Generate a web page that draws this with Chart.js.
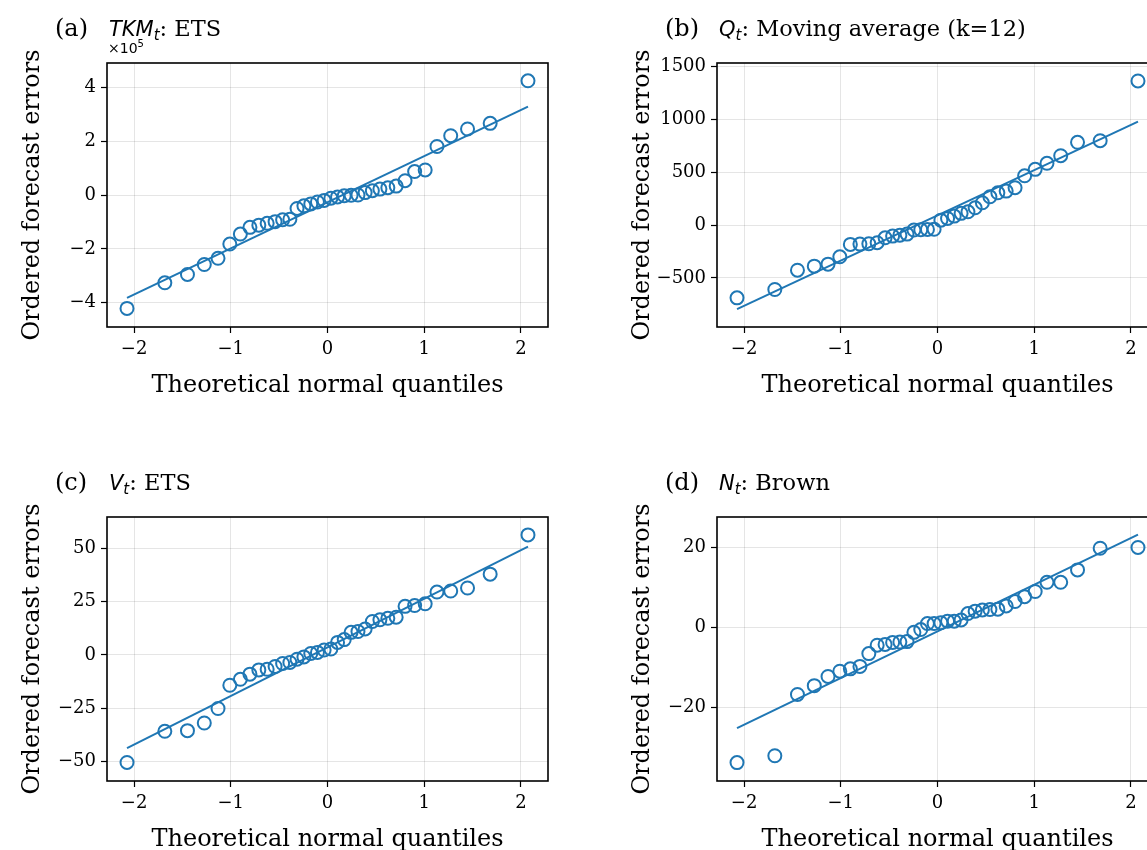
<!DOCTYPE html>
<html><head><meta charset="utf-8">
<script src="https://cdn.jsdelivr.net/npm/chart.js@4.4.1/dist/chart.umd.min.js"></script>
<style>
html,body{margin:0;padding:0;background:#fff;}
body{width:1147px;height:850px;overflow:hidden;position:relative;}
canvas{position:absolute;}
</style></head><body>
<canvas id="pa" width="580" height="420" style="left:0px;top:0px;width:580px;height:420px"></canvas>
<canvas id="pb" width="580" height="420" style="left:610px;top:0px;width:580px;height:420px"></canvas>
<canvas id="pc" width="580" height="420" style="left:0px;top:454px;width:580px;height:420px"></canvas>
<canvas id="pd" width="580" height="420" style="left:610px;top:454px;width:580px;height:420px"></canvas>
<script>
// Theoretical normal quantiles (x positions)
const quantiles = [-2.073,-1.682,-1.448,-1.274,-1.132,-1.010,-0.901,-0.802,-0.710,-0.624,-0.542,-0.464,-0.389,-0.315,-0.244,-0.173,-0.104,-0.035,0.035,0.104,0.173,0.244,0.315,0.389,0.464,0.542,0.624,0.710,0.802,0.901,1.010,1.132,1.274,1.448,1.682,2.073];
const xTicks = [-2,-1,0,1,2];

// (a) TKM_t: ETS
const errorsA = [-421000,-326000,-295000,-258000,-235000,-182000,-145000,-120000,-112000,-105000,-99000,-92000,-90000,-50000,-40000,-33000,-26000,-20000,-12000,-7000,-3000,-1000,0,9000,16000,22000,27000,33000,53000,87000,93000,180000,220000,245000,266000,424000];
const fitA = [-382000, 328000];
const yTicksA = [-400000,-200000,0,200000,400000];

// (b) Q_t: Moving average (k=12)
const errorsB = [-689,-610,-427,-389,-370,-300,-183,-180,-177,-167,-120,-104,-95,-85,-47,-44,-41,-40,47,63,85,111,126,164,211,268,306,322,354,467,528,585,657,784,799,1365];
const fitB = [-796, 979];
const yTicksB = [-500,0,500,1000,1500];

// (c) V_t: ETS
const errorsC = [-50.4,-35.8,-35.5,-31.9,-25.1,-14.2,-11.4,-9.0,-7.0,-6.7,-5.4,-4.0,-3.5,-2.0,-0.9,0.7,1.2,2.3,2.8,5.9,7.2,10.6,11.0,12.2,15.7,16.5,17.2,17.7,22.8,23.2,24.0,29.5,30.0,31.4,37.9,56.3];
const fitC = [-43.7, 50.8];
const yTicksC = [-50,-25,0,25,50];

// (d) N_t: Brown
const errorsD = [-33.8,-32.1,-16.8,-14.6,-12.3,-11.0,-10.4,-9.8,-6.6,-4.5,-4.3,-3.8,-3.7,-3.6,-1.3,-0.6,0.9,0.9,1.1,1.5,1.5,1.8,3.4,4.0,4.3,4.4,4.5,5.3,6.4,7.6,8.9,11.2,11.2,14.3,19.7,19.9];
const fitD = [-25.2, 23.1];
const yTicksD = [-20,0,20];

const BLUE = '#1f77b4';
Chart.defaults.font.family = '"DejaVu Serif"';
Chart.defaults.color = '#000';

function minus(s){ return String(s).replace('-', '\u2212'); }

function panel(id, errors, fit, yTicks, yMin, yMax, title, yScale) {
  const titlePlugin = {
    id: 'frameTitle' + id,
    afterDatasetsDraw(chart) {
      const {ctx, chartArea: a} = chart;
      ctx.save();
      ctx.strokeStyle = '#000';
      ctx.lineWidth = 1.6;
      ctx.strokeRect(a.left, a.top, a.right - a.left, a.bottom - a.top);
      ctx.restore();
    },
    afterDraw(chart) {
      const ctx = chart.ctx;
      ctx.save();
      ctx.fillStyle = '#000';
      ctx.textBaseline = 'alphabetic';
      ctx.textAlign = 'left';
      ctx.font = '24px "DejaVu Serif"';
      ctx.fillText(title.tag, 55, 36);
      let x = 109;
      ctx.font = 'italic 21px "DejaVu Sans"';
      ctx.fillText(title.math, x, 36);
      x += ctx.measureText(title.math).width;
      ctx.font = 'italic 15px "DejaVu Sans"';
      ctx.fillText(title.sub, x, 40);
      x += ctx.measureText(title.sub).width;
      ctx.font = '22.5px "DejaVu Serif"';
      ctx.fillText(title.text, x, 36);
      if (title.offset) {
        ctx.font = '14px "DejaVu Sans"';
        ctx.fillText(title.offset, 108, 53);
        const w = ctx.measureText(title.offset).width;
        ctx.font = '10px "DejaVu Sans"';
        ctx.fillText(title.exp, 108 + w, 47);
      }
      ctx.restore();
    }
  };
  new Chart(document.getElementById(id), {
    type: 'scatter',
    data: {
      datasets: [
        { data: [{x: quantiles[0], y: fit[0]}, {x: quantiles[quantiles.length-1], y: fit[1]}],
          showLine: true, borderColor: BLUE, borderWidth: 2, pointRadius: 0 },
        { data: quantiles.map((q, i) => ({x: q, y: errors[i]})),
          pointStyle: 'circle', pointRadius: 6.5, borderColor: BLUE, borderWidth: 2,
          backgroundColor: 'rgba(0,0,0,0)' }
      ]
    },
    options: {
      responsive: false, animation: false,
      layout: { padding: { left: 18.6, top: 63, right: 32, bottom: 20 } },
      plugins: { legend: { display: false }, tooltip: { enabled: false } },
      scales: {
        x: {
          type: 'linear', min: -2.28, max: 2.28,
          afterBuildTicks: s => { s.ticks = xTicks.map(v => ({value: v})); },
          afterFit: s => { s.height = 73; },
          grid: { color: 'rgba(0,0,0,0.1)', lineWidth: 1, tickColor: '#000', tickLength: 6, tickWidth: 1.2 },
          border: { display: false },
          ticks: { font: { size: 18 }, padding: 6, maxRotation: 0, callback: v => minus(v) },
          title: { display: true, text: 'Theoretical normal quantiles', font: { size: 24 }, padding: 0 }
        },
        y: {
          type: 'linear', min: yMin, max: yMax,
          afterBuildTicks: s => { s.ticks = yTicks.map(v => ({value: v})); },
          afterFit: s => { s.width = 88.4; },
          grid: { color: 'rgba(0,0,0,0.1)', lineWidth: 1, tickColor: '#000', tickLength: 6, tickWidth: 1.2 },
          border: { display: false },
          ticks: { font: { size: 18 }, padding: 5, callback: v => minus(v / yScale) },
          title: { display: true, text: 'Ordered forecast errors', font: { size: 24 }, padding: 0 }
        }
      }
    },
    plugins: [titlePlugin]
  });
}

panel('pa', errorsA, fitA, yTicksA, -490000, 490000, {tag: '(a)', math: 'TKM', sub: 't', text: ': ETS', offset: '\u00d710', exp: '5'}, 100000);
panel('pb', errorsB, fitB, yTicksB, -965, 1535, {tag: '(b)', math: 'Q', sub: 't', text: ': Moving average (k=12)'}, 1);
panel('pc', errorsC, fitC, yTicksC, -59.1, 64.7, {tag: '(c)', math: 'V', sub: 't', text: ': ETS'}, 1);
panel('pd', errorsD, fitD, yTicksD, -38.4, 27.5, {tag: '(d)', math: 'N', sub: 't', text: ': Brown'}, 1);
</script>
</body></html>
